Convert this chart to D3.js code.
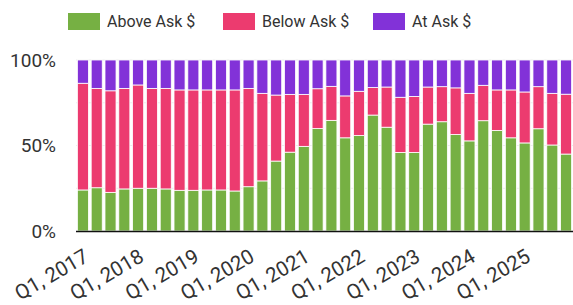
<!DOCTYPE html>
<html><head><meta charset="utf-8">
<script src="https://cdn.jsdelivr.net/npm/d3@7"></script>
<style>body{margin:0;background:#fff;}svg{display:block;font-family:Roboto,sans-serif;}</style>
</head><body><svg id="c" width="573" height="305"></svg>
<script>
const years = [2017,2018,2019,2020,2021,2022,2023,2024,2025];
const quarters = years.flatMap(y => [1,2,3,4].map(q => `Q${q}, ${y}`));
const aboveAsk = [24,25.3,22.6,24.6,25,25,24.6,23.8,23.8,24,24,23.4,25.9,29.3,40.9,46.1,49.5,59.9,64.7,54.5,55.8,67.8,60.7,45.9,45.9,62.5,63.9,56.4,52.7,64.5,58.8,54.5,51.5,59.8,50.3,45];
const pinkTop  = [86.4,83.4,82,83.4,85.4,83.4,83.4,82.5,82.5,82.5,82.5,82.5,83.4,80.5,79.5,79.9,79.9,83.2,84.6,79,81.7,83.9,84.2,78.2,78.7,84.2,84.4,83.7,80.5,85.2,82.5,82.5,81.3,84.4,80.5,80];
const belowAsk = pinkTop.map((t,i) => +(t - aboveAsk[i]).toFixed(1));
const atAsk = pinkTop.map(t => +(100 - t).toFixed(1));
const seriesNames = ["Above Ask $","Below Ask $","At Ask $"];
const colors = ["#76b043","#ec3b6f","#8232d8"];
const yTicks = [0,50,100];
const xLabelTicks = years.map(y => `Q1, ${y}`);

const rows = quarters.map((q,i) => ({q, "Above Ask $":aboveAsk[i], "Below Ask $":belowAsk[i], "At Ask $":atAsk[i]}));
const stack = d3.stack().keys(seriesNames).offset(d3.stackOffsetExpand)(rows);

const svg = d3.select("#c");
const x = d3.scaleBand().domain(quarters).range([76,573]).paddingInner(0.2).paddingOuter(0.1);
const y = d3.scaleLinear().domain([0,1]).range([231,60]);

svg.append("g").selectAll("line").data([0.25,0.5,0.75,1]).join("line")
  .attr("x1",76).attr("x2",573).attr("y1",d=>y(d)).attr("y2",d=>y(d))
  .attr("stroke","#ececec").attr("stroke-width",1);

svg.append("g").selectAll("g").data(stack).join("g")
  .attr("fill",(d,i)=>colors[i])
  .selectAll("rect").data(d=>d).join("rect")
  .attr("x",d=>x(d.data.q)).attr("width",x.bandwidth())
  .attr("y",d=>y(d[1])).attr("height",d=>y(d[0])-y(d[1]))
  .attr("stroke","#fff").attr("stroke-width",0.8);

svg.append("line").attr("x1",76).attr("x2",573).attr("y1",231.5).attr("y2",231.5)
  .attr("stroke","#111").attr("stroke-width",1.5);

const yAxis = d3.axisLeft(y).tickValues(yTicks.map(v=>v/100)).tickFormat(d=>Math.round(d*100)+"%").tickSize(0).tickPadding(0);
const ya = svg.append("g").attr("transform","translate(56,0)").call(yAxis);
ya.select(".domain").remove();
ya.selectAll("text").attr("font-size",19).attr("fill","#333").attr("font-family","Roboto");

const xAxis = d3.axisBottom(x).tickValues(xLabelTicks).tickSize(0).tickPadding(0);
const xa = svg.append("g").attr("transform","translate(0,248)").call(xAxis);
xa.select(".domain").remove();
xa.selectAll("text").attr("font-size",20.5).attr("fill","#333").attr("font-family","Roboto")
  .attr("text-anchor","end").attr("y",0).attr("dy","0.7em").attr("dx","0")
  .attr("transform","rotate(-30)");

const legX = [68,223,373];
const lg = svg.append("g").selectAll("g").data(seriesNames).join("g")
  .attr("transform",(d,i)=>`translate(${legX[i]},13)`);
lg.append("rect").attr("width",32).attr("height",17).attr("fill",(d,i)=>colors[i]);
lg.append("text").attr("x",39).attr("y",14).attr("font-size",16).attr("fill","#333").text(d=>d);
</script></body></html>
